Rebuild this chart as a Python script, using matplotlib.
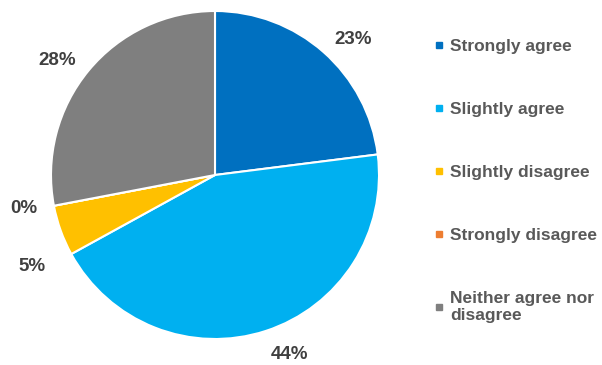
import matplotlib
matplotlib.use("Agg")
import matplotlib.pyplot as plt
from matplotlib.lines import Line2D

categories = ["Strongly agree", "Slightly agree", "Slightly disagree",
              "Strongly disagree", "Neither agree nor\ndisagree"]
values = [23, 44, 5, 0, 28]
colors = ["#0070C0", "#00B0F0", "#FFC000", "#ED7D31", "#7F7F7F"]

plt.rcParams['font.family'] = ['Liberation Sans', 'DejaVu Sans']

W, H = 602, 365
CX, CY, R = 215, 190, 164
fig = plt.figure(figsize=(W / 100, H / 100), dpi=100)
ax = fig.add_axes([0, 0, 1, 1])

labels = [f"{v:.0f}%" for v in values]
wedges, texts = ax.pie(values, colors=colors, startangle=90, counterclock=False,
                       center=(CX, CY), radius=R, labels=labels,
                       labeldistance=1.1, frame=True,
                       wedgeprops=dict(edgecolor='white', linewidth=1.5),
                       textprops=dict(fontsize=13.5, fontweight='bold', color='#404040'))
ax.set_xlim(0, W)
ax.set_ylim(0, H)
ax.set_aspect('equal')
ax.axis('off')

# outside-end alignment relative to the pie centre
for t in texts:
    x, y = t.get_position()
    t.set_ha('left' if x > CX else 'right')
    t.set_va('center')

# Excel nudges
x, y = texts[1].get_position()
texts[1].set_position((x, y - 8))
x, y = texts[2].get_position()
texts[2].set_position((x, y - 30))

handles = [Line2D([], [], marker='s', linestyle='', markersize=5,
                  markerfacecolor=c, markeredgecolor=c) for c in colors]
leg = fig.legend(handles, categories, loc='upper left',
                 bbox_to_anchor=(419 / W, 1 - 23 / H), frameon=False,
                 handlelength=0.5, handletextpad=0.4, labelspacing=2.76,
                 prop=dict(size=12.5, weight='bold'))
for t in leg.get_texts():
    t.set_color('#595959')

fig.savefig("out.png", dpi=100)
